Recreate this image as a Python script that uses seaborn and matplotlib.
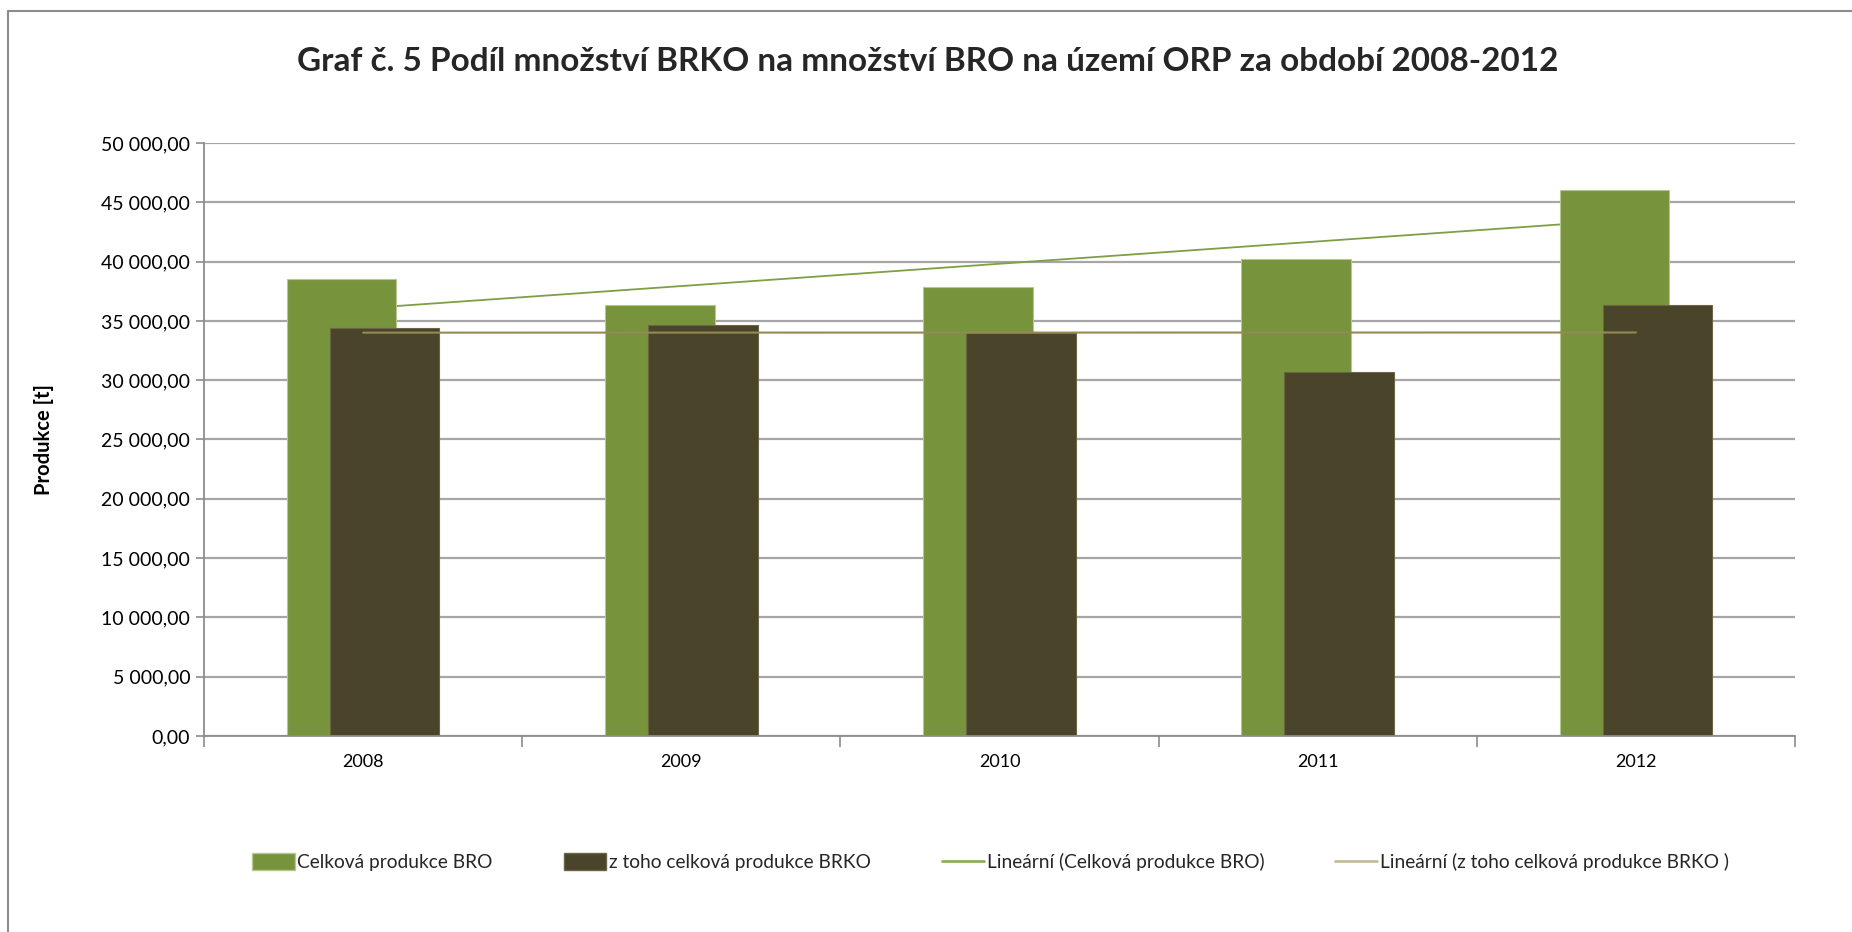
import numpy as np
import pandas as pd
import matplotlib
matplotlib.use("Agg")
import matplotlib.pyplot as plt
import seaborn as sns
from matplotlib.lines import Line2D
from matplotlib.patches import Patch
from matplotlib.ticker import FuncFormatter, FixedLocator

# ---- data ----
years = ["2008", "2009", "2010", "2011", "2012"]
bro_total = [38550, 36380, 37880, 40250, 46020]
brko_total = [34380, 34650, 33980, 30680, 36380]
series_names = ["Celková produkce BRO", "z toho celková produkce BRKO",
                "Lineární (Celková produkce BRO)", "Lineární (z toho celková produkce BRKO )"]
title_text = "Graf č. 5 Podíl množství BRKO na množství BRO na území ORP za období 2008-2012"
ylabel_text = "Produkce [t]"

GREEN = "#77933C"
DARK = "#4A452A"
GREEN_TREND = "#7F9F45"
TAN_TREND = "#948A54"
GRID = "#A6A6A6"

sns.set_theme(style="white")
plt.rcParams["font.family"] = ["Lato", "DejaVu Sans"]

fig = plt.figure(figsize=(18.52, 9.32), dpi=100)
ax = fig.add_axes([0.1102, 0.2103, 0.9692 - 0.1102, 0.8466 - 0.2103])

df = pd.DataFrame({"year": years, "bro": bro_total, "brko": brko_total})

BW = 0.344
OFF = 0.0675

sns.barplot(data=df, x="year", y="bro", color=GREEN, width=BW, saturation=1,
            edgecolor="#B5C98F", linewidth=0.8, ax=ax, zorder=2)
n1 = len(ax.patches)
for p in ax.patches[:n1]:
    p.set_x(p.get_x() - OFF)
sns.barplot(data=df, x="year", y="brko", color=DARK, width=BW, saturation=1,
            edgecolor="#6B6545", linewidth=0.8, ax=ax, zorder=2.1)
for p in ax.patches[n1:]:
    p.set_x(p.get_x() + OFF)

# linear trendlines (least squares)
xpos = np.arange(len(years))
c1 = np.polyfit(xpos, bro_total, 1)
c2 = np.polyfit(xpos, brko_total, 1)
ax.plot(xpos, np.polyval(c1, xpos), color=GREEN_TREND, lw=1.3, zorder=1.5)
ax.plot(xpos, np.polyval(c2, xpos), color=TAN_TREND, lw=1.5, zorder=3)

# axes styling
ax.set_xlim(-0.5, len(years) - 0.5)
ax.set_ylim(0, 50000)
ax.yaxis.set_major_locator(FixedLocator(np.arange(0, 50001, 5000)))
ax.yaxis.set_major_formatter(FuncFormatter(
    lambda v, _: f"{v:,.2f}".replace(",", " ").replace(".", ",")))
ax.set_axisbelow(True)
ax.grid(axis="y", color=GRID, lw=1.6, zorder=0)
ax.grid(axis="x", visible=False)
for s in ["top", "right"]:
    ax.spines[s].set_visible(False)
for s in ["left", "bottom"]:
    ax.spines[s].set_color("#8C8C8C")
    ax.spines[s].set_linewidth(1.3)
ax.set_xlabel("")
ax.set_ylabel(ylabel_text, fontsize=14.5, fontweight="bold", labelpad=34, color="black")
ax.tick_params(axis="y", left=True, length=6, width=1.2, color="#8C8C8C",
               labelsize=14, pad=4, labelcolor="black")
ax.set_xticks(xpos)
ax.set_xticklabels(years)
ax.tick_params(axis="x", which="major", bottom=False, length=0, labelsize=13,
               pad=13, labelcolor="black")
ax.set_xticks(np.arange(-0.5, len(years), 1.0), minor=True)
ax.tick_params(axis="x", which="minor", bottom=True, length=8, width=1.2, color="#8C8C8C")

fig.text(0.501, 0.934, title_text, ha="center", va="center", fontsize=24, fontweight="bold")

handles = [Patch(facecolor=GREEN, edgecolor="#B5C98F"),
           Patch(facecolor=DARK, edgecolor="#6B6545"),
           Line2D([0], [0], color="#8DB05A", lw=2),
           Line2D([0], [0], color="#C4BD97", lw=2)]
fig.legend(handles, series_names, loc="center", bbox_to_anchor=(0.535, 0.075), ncol=4,
           frameon=False, fontsize=13.8, handlelength=2.2, handleheight=1.0,
           handletextpad=0.15, columnspacing=3.7)

# outer chart frame (top and left visible)
fig.add_artist(Line2D([8 / 1852, 1.0], [1 - 11 / 932, 1 - 11 / 932],
                      transform=fig.transFigure, color="#8C8C8C", lw=1.5))
fig.add_artist(Line2D([8 / 1852, 8 / 1852], [0, 1 - 11 / 932],
                      transform=fig.transFigure, color="#8C8C8C", lw=1.5))

fig.savefig("out.png", dpi=100, facecolor="white")
